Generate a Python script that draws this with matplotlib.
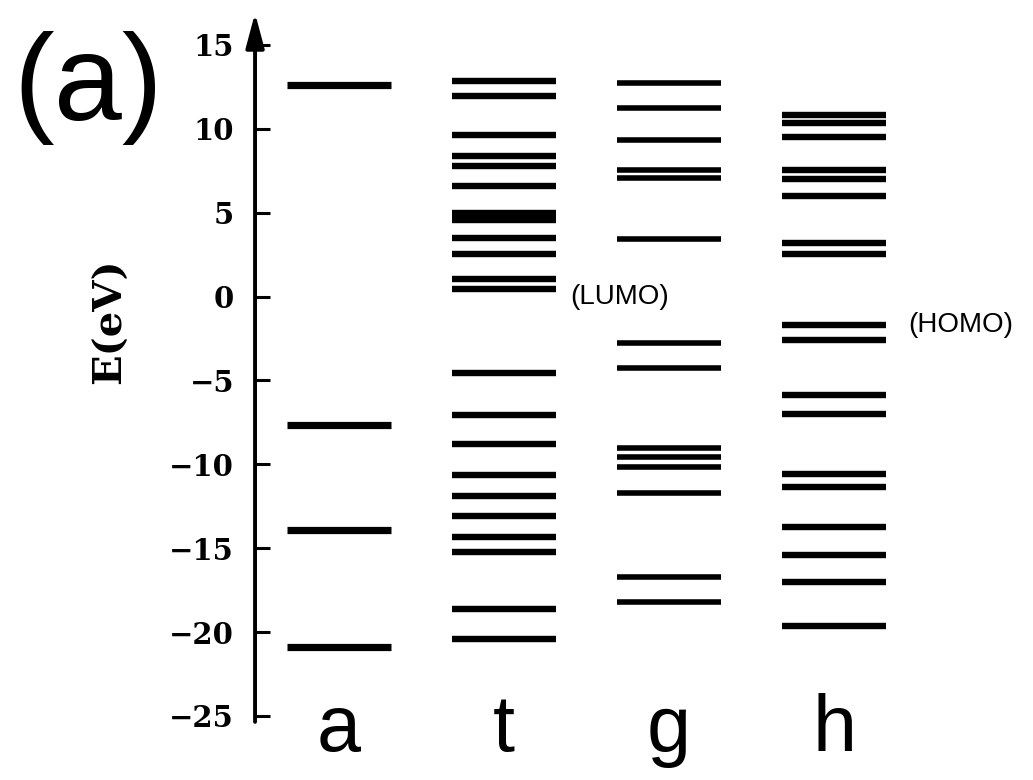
import matplotlib
matplotlib.use("Agg")
import matplotlib.pyplot as plt

# ---- data (eV) ----
categories = ["a", "t", "g", "h"]
levels_a = [12.6, -7.66, -13.9, -20.9]
levels_t = [12.86, 11.96, 9.64, 8.40, 7.77, 6.60, 5.0, 4.75, 4.55, 3.51, 2.51,
            1.02, 0.46, -4.57, -7.03, -8.80, -10.66, -11.90, -13.05, -14.35,
            -15.25, -18.6, -20.4]
levels_g = [12.75, 11.24, 9.36, 7.52, 7.08, 3.41, -2.77, -4.23, -9.02, -9.56,
            -10.16, -11.7, -16.7, -18.2]
levels_h = [10.8, 10.37, 9.54, 7.54, 7.0, 6.0, 3.21, 2.51, -1.72, -2.57, -5.87,
            -6.97, -10.56, -11.36, -13.75, -15.41, -16.99, -19.64]
all_levels = [levels_a, levels_t, levels_g, levels_h]
yticks = [15, 10, 5, 0, -5, -10, -15, -20, -25]
lumo_level = 0.46
homo_level = -1.72

fig = plt.figure(figsize=(10.33, 7.8), dpi=100)
ax = fig.add_axes([0.2469, 0.0756, 0.7531, 0.9141])
ax.set_xlim(-0.509, 4.206)
ax.set_ylim(-25.3, 17.2)

half = 0.315
widths = [5.2, 4.6, 4.0, 4.6]
for i, lev in enumerate(all_levels):
    ax.hlines(lev, i - half, i + half, colors="black", linewidth=widths[i],
              capstyle="butt")

for s in ["top", "right", "bottom", "left"]:
    ax.spines[s].set_visible(False)

# left axis with arrow
ax.annotate("", xy=(0, 16.9), xytext=(0, -25.35),
            xycoords=("axes fraction", "data"), textcoords=("axes fraction", "data"),
            arrowprops=dict(arrowstyle="-|>,head_length=0.6,head_width=0.16",
                            lw=2.8, color="black", mutation_scale=35,
                            shrinkA=0, shrinkB=0))

ax.set_yticks(yticks)
ax.set_yticklabels([f"{v}".replace("-", "\u2212") for v in yticks],
                   fontfamily="DejaVu Serif", fontweight="bold", fontsize=21)
ax.tick_params(axis="y", direction="in", length=11, width=2.2, pad=15, left=True)
ax.set_xticks([])

# category labels
for i, c in enumerate(categories):
    ax.text(i, -27.1, c, ha="center", va="baseline", fontsize=57,
            fontfamily="Liberation Sans", clip_on=False)

ax.text(1.40, 0.0, "(LUMO)", ha="left", va="center", fontsize=20,
        fontfamily="Liberation Sans")
ax.text(3.448, homo_level, "(HOMO)", ha="left", va="center", fontsize=20,
        fontfamily="Liberation Sans", clip_on=False)

fig.text(110 / 1033, 1 - 321 / 780, "E(eV)", rotation=90, ha="center", va="center",
         fontsize=29, fontfamily="DejaVu Serif", fontweight="bold")
fig.text(13 / 1033, 1 - 120 / 780, "(a)", ha="left", va="baseline", fontsize=88,
         fontfamily="Liberation Sans")

fig.savefig("out.png", dpi=100)
